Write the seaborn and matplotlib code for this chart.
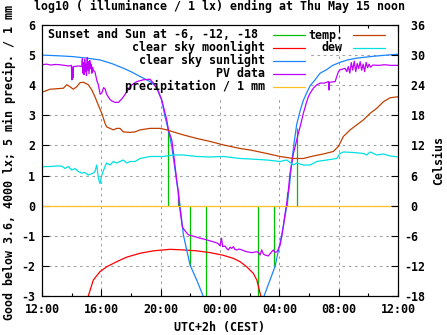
import matplotlib
matplotlib.use("Agg")
import matplotlib.pyplot as plt
import seaborn as sns
from matplotlib.patches import Rectangle
from matplotlib.lines import Line2D

# ---------------- data (hours since 12:00) ----------------
xtick_pos = [0, 4, 8, 12, 16, 20, 24]
xtick_labels = ["12:00", "16:00", "20:00", "00:00", "04:00", "08:00", "12:00"]
xminor_pos = [2, 6, 10, 14, 18, 22]
ytick_vals = [-3, -2, -1, 0, 1, 2, 3, 4, 5, 6]
y2tick_vals = [-18, -12, -6, 0, 6, 12, 18, 24, 30, 36]

# Sunset and sun at -6, -12, -18 (impulses)
green_h = [8.52, 9.15, 10.00, 11.08, 14.59, 15.66, 16.50, 17.22]
green_v = [2.57, 0.47, -2.00, -3.50, -3.50, -2.00, 0.47, 2.57]

# clear sky moonlight
moon_h = [3.0, 3.12, 3.46, 3.91, 4.36, 5.04, 5.71, 6.61, 7.51, 8.63, 9.53,
          10.43, 11.33, 12.23, 12.9, 13.35, 13.80, 14.25, 14.48, 14.65, 14.75, 14.85]
moon_v = [-3.4, -3.0, -2.47, -2.19, -2.03, -1.86, -1.71, -1.58, -1.50, -1.45, -1.47,
          -1.50, -1.56, -1.65, -1.75, -1.86, -2.03, -2.25, -2.47, -2.80, -3.0, -3.4]

# clear sky sunlight (evening and morning branches)
sun_eve_h = [0.0, 1.0, 2.09, 3.0, 3.91, 4.7, 5.46, 6.0, 6.61, 7.28, 7.73, 8.07, 8.29,
             8.52, 8.75, 8.97, 9.31, 9.53, 9.98, 10.43, 10.84, 11.0]
sun_eve_v = [5.00, 4.98, 4.95, 4.90, 4.84, 4.72, 4.57, 4.45, 4.29, 4.12, 3.95, 3.51, 2.96,
             2.51, 1.96, 1.19, 0.0, -0.97, -1.97, -2.47, -2.97, -3.3]
sun_morn_h = [14.7, 14.97, 15.37, 15.71, 16.16, 16.54, 16.70, 16.84, 17.0, 17.17, 17.40,
              17.62, 17.85, 18.07, 18.41, 18.75, 19.2, 19.6, 20.09, 20.6, 21.22, 22.32, 23.2, 24.0]
sun_morn_v = [-3.3, -3.0, -2.47, -2.02, -0.97, 0.09, 0.75, 1.45, 2.1, 2.7, 3.15,
              3.5, 3.75, 3.98, 4.18, 4.4, 4.52, 4.66, 4.76, 4.84, 4.9, 4.96, 5.0, 5.03]

# PV data
pv_h = [0.00, 0.30, 0.60, 0.90, 1.20, 1.50, 1.80, 1.98, 2.02, 2.06,
        2.09, 2.12, 2.30, 2.50, 2.68, 2.72, 2.76, 2.80, 2.84, 2.88,
        2.92, 2.96, 3.00, 3.05, 3.09, 3.13, 3.17, 3.22, 3.27, 3.31,
        3.36, 3.41, 3.46, 3.57, 3.70, 3.80, 3.92, 4.03, 4.15, 4.25,
        4.36, 4.47, 4.60, 4.70, 4.92, 5.15, 5.37, 5.55, 5.71, 5.88,
        6.05, 6.39, 6.83, 7.28, 7.51, 7.84, 8.07, 8.29, 8.41, 8.52,
        8.75, 8.92, 9.08, 9.19, 9.24, 9.37, 9.46, 9.60, 9.87, 10.32,
        10.65, 10.99, 11.55, 11.85, 12.00, 12.10, 12.18, 12.34, 12.45, 12.56,
        12.68, 12.79, 12.90, 13.00, 13.13, 13.30, 13.47, 13.80, 14.14, 14.48,
        14.60, 14.70, 14.81, 14.92, 15.04, 15.26, 15.40, 15.49, 15.60, 15.70,
        15.83, 15.93, 16.05, 16.16, 16.27, 16.39, 16.50, 16.61, 16.72, 16.84,
        16.95, 17.06, 17.17, 17.28, 17.40, 17.51, 17.62, 17.74, 17.85, 17.96,
        18.07, 18.29, 18.52, 18.75, 19.03, 19.31, 19.35, 19.38, 19.76, 19.87,
        19.98, 20.09, 20.43, 20.55, 20.65, 20.75, 20.85, 20.95, 21.05, 21.15,
        21.25, 21.35, 21.45, 21.55, 21.65, 21.75, 21.85, 21.95, 22.05, 22.15,
        22.30, 22.70, 23.10, 23.50, 24.00]
pv_v = [4.68, 4.70, 4.67, 4.69, 4.68, 4.66, 4.64, 4.66, 4.18, 4.60,
        4.25, 4.62, 4.63, 4.64, 4.62, 4.88, 4.40, 4.75, 4.35, 4.86,
        4.45, 4.70, 4.32, 4.92, 4.50, 4.78, 4.38, 4.82, 4.55, 4.70,
        4.40, 4.60, 4.50, 4.44, 4.15, 4.01, 3.70, 3.74, 3.92, 3.88,
        3.70, 3.61, 3.52, 3.48, 3.43, 3.43, 3.54, 3.66, 3.78, 3.92,
        4.01, 4.12, 4.18, 4.20, 4.07, 3.79, 3.51, 3.08, 2.85, 2.51,
        2.18, 1.52, 0.85, 0.47, 0.09, -0.37, -0.70, -0.81, -0.97, -1.03,
        -1.08, -1.12, -1.20, -1.25, -1.33, -1.08, -1.36, -1.34, -1.42, -1.47,
        -1.38, -1.42, -1.36, -1.45, -1.47, -1.44, -1.47, -1.53, -1.56, -1.53,
        -1.56, -1.64, -1.47, -1.60, -1.64, -1.67, -1.58, -1.53, -1.47, -1.55,
        -1.53, -1.45, -1.31, -1.03, -0.70, -0.25, 0.08, 0.52, 1.08, 1.41,
        1.74, 1.95, 2.18, 2.40, 2.62, 2.85, 3.07, 3.27, 3.46, 3.62,
        3.73, 3.90, 4.01, 4.07, 4.07, 4.12, 3.84, 4.10, 4.12, 4.29,
        4.45, 4.51, 4.56, 4.45, 4.62, 4.40, 4.75, 4.50, 4.80, 4.45,
        4.72, 4.55, 4.78, 4.50, 4.70, 4.45, 4.76, 4.58, 4.70, 4.60,
        4.67, 4.66, 4.68, 4.66, 4.66]

# precipitation / 1 mm
prec_h = [0.0, 24.0]
prec_v = [0.0, 0.0]

# temperature and dew point (Celsius, right axis)
temp_h = [0, 0.54, 1.44, 1.67, 1.89, 2.11, 2.34, 2.56, 2.78, 3.12,
          3.35, 3.57, 3.80, 4.03, 4.25, 4.36, 4.59, 4.81, 5.04, 5.26,
          5.48, 5.93, 6.27, 6.61, 7.28, 7.96, 8.41, 8.85, 9.53, 10.43,
          11.33, 12.23, 13.35, 14.03, 15.15, 16.05, 16.95, 17.62, 18.29, 18.97,
          19.64, 19.98, 20.32, 20.77, 21.22, 21.67, 22.12, 22.57, 23.01, 23.47, 24.0]
temp_c = [22.6, 23.2, 23.4, 24.1, 23.7, 23.2, 23.7, 24.5, 24.6, 24.1,
          23.1, 21.7, 20.0, 18.4, 16.4, 15.7, 15.4, 15.1, 15.4, 15.4,
          14.7, 14.6, 14.7, 15.1, 15.4, 15.4, 15.1, 14.7, 14.1, 13.4,
          12.8, 12.1, 11.4, 11.1, 10.4, 9.8, 9.4, 9.4, 9.9, 10.3,
          10.8, 11.8, 13.8, 15.1, 16.1, 17.1, 18.4, 19.4, 20.7, 21.5, 21.7]
dew_h = [0, 0.20, 0.54, 0.99, 1.33, 1.55, 1.77, 2.0, 2.23, 2.45,
         2.68, 2.90, 3.12, 3.46, 3.57, 3.69, 3.80, 3.91, 4.03, 4.25,
         4.36, 4.59, 4.81, 5.04, 5.26, 5.48, 5.71, 5.93, 6.27, 6.61,
         7.28, 8.18, 8.85, 9.53, 10.43, 11.33, 12.23, 13.35, 14.03, 15.15,
         16.05, 16.50, 16.95, 17.17, 17.62, 18.07, 18.52, 19.20, 19.87, 20.09,
         20.32, 20.99, 21.67, 21.89, 22.12, 22.57, 23.01, 23.47, 24.0]
dew_c = [7.7, 7.8, 7.8, 7.9, 7.9, 7.4, 7.8, 7.1, 7.4, 6.8,
         6.5, 6.6, 6.1, 6.5, 6.8, 8.1, 5.5, 4.4, 6.1, 7.8,
         8.5, 8.1, 8.8, 8.5, 8.8, 9.1, 8.5, 8.8, 8.8, 9.4,
         9.8, 9.8, 10.1, 10.1, 9.8, 9.7, 9.8, 9.4, 9.3, 9.1,
         8.8, 9.1, 8.1, 8.5, 8.1, 8.1, 8.8, 9.1, 9.4, 10.4,
         10.7, 10.6, 10.4, 10.1, 10.7, 10.1, 10.3, 9.9, 9.7]

title = "log10 ( illuminance / 1 lx) ending at Thu May 15 noon"
ylabel = "Good below 3.6, 4000 lx; 5 min precip. / 1 mm"
y2label = "Celsius"
xlabel = "UTC+2h (CEST)"
legend1 = ["Sunset and Sun at -6, -12, -18", "clear sky moonlight",
           "clear sky sunlight", "PV data", "precipitation / 1 mm"]
legend2 = ["temp.", "dew"]

# ---------------- style ----------------
C_GREEN, C_RED, C_BLUE, C_PURPLE, C_YELLOW = "#00c000", "#ff0000", "#1a85ff", "#c000ff", "#ffc020"
C_BROWN, C_CYAN = "#c04000", "#00e0e0"

sns.set_style("white")
plt.rcParams.update({
    "font.family": ["DejaVu Sans Mono"],
    "font.weight": "bold",
    "axes.unicode_minus": False,
    "text.color": "black",
    "axes.labelcolor": "black",
    "xtick.color": "black",
    "ytick.color": "black",
    "axes.edgecolor": "black",
})
FS = 8.4
LW = 0.9

W, H = 447, 335
L, R, T, B = 42, 398, 25, 296
fig = plt.figure(figsize=(W / 100, H / 100), dpi=100)
ax = fig.add_axes([L / W, (H - B) / H, (R - L) / W, (B - T) / H])
ax2 = ax.twinx()

kw = dict(estimator=None, sort=False, legend=False, linewidth=LW)

# opaque key area of the first plot (hides grid)
ax.add_patch(Rectangle((0, 3.575), 18.07, 6 - 3.575, facecolor="white",
                       edgecolor="none", zorder=1))

ax.vlines(green_h, 0, green_v, colors=C_GREEN, linewidth=LW, zorder=2)
sns.lineplot(x=moon_h, y=moon_v, ax=ax, color=C_RED, **kw)
sns.lineplot(x=sun_eve_h, y=sun_eve_v, ax=ax, color=C_BLUE, **kw)
sns.lineplot(x=sun_morn_h, y=sun_morn_v, ax=ax, color=C_BLUE, **kw)
sns.lineplot(x=pv_h, y=pv_v, ax=ax, color=C_PURPLE, **kw)
sns.lineplot(x=prec_h, y=prec_v, ax=ax, color=C_YELLOW, **kw)
sns.lineplot(x=temp_h, y=temp_c, ax=ax2, color=C_BROWN, **kw)
sns.lineplot(x=dew_h, y=dew_c, ax=ax2, color=C_CYAN, **kw)

ax.set_xlim(0, 24)
ax.set_ylim(-3, 6)
ax2.set_ylim(-18, 36)
ax.set_xlabel("")
ax.set_ylabel("")
ax2.set_ylabel("")

ax.grid(True, which="major", color="#a0a0a0", linewidth=0.75, linestyle=(0, (2.5, 3.5)))
ax.set_axisbelow(True)

ax.set_xticks(xtick_pos)
ax.set_xticklabels(xtick_labels, fontsize=FS)
ax.set_xticks(xminor_pos, minor=True)
ax.set_yticks(ytick_vals)
ax.set_yticklabels([str(v) for v in ytick_vals], fontsize=FS)
ax2.set_yticks(y2tick_vals)
ax2.set_yticklabels([("% d" % v) for v in y2tick_vals], fontsize=FS)

ax.tick_params(axis="x", which="major", direction="in", length=5, width=0.8,
               bottom=True, top=True, pad=5)
ax.tick_params(axis="x", which="minor", direction="in", length=2.5, width=0.8,
               bottom=True, top=True)
ax.tick_params(axis="y", which="major", direction="in", length=5, width=0.8,
               left=True, right=False, pad=5)
ax2.tick_params(axis="y", which="major", direction="in", length=5, width=0.8,
                left=False, right=True, pad=4.3)
for a in (ax, ax2):
    for s in a.spines.values():
        s.set_linewidth(0.8)
        s.set_color("black")

# texts
fig.text(220 / W, (H - 10) / H, title, ha="center", va="baseline", fontsize=FS)
fig.text(220 / W, (H - 330.5) / H, xlabel, ha="center", va="baseline", fontsize=FS)
fig.text(9 / W, (H - 162) / H, ylabel, rotation=90, ha="center", va="center", fontsize=FS)
fig.text(439 / W, (H - 160) / H, y2label, rotation=90, ha="center", va="center", fontsize=FS)

# key
col1_colors = [C_GREEN, C_RED, C_BLUE, C_PURPLE, C_YELLOW]
col2_colors = [C_BROWN, C_CYAN]
for i, (lab, c) in enumerate(zip(legend1, col1_colors)):
    y = 35 + 12.9 * i
    xr = 258 if i == 0 else 265
    fig.text(xr / W, (H - y) / H, lab, ha="right", va="center", fontsize=FS)
    fig.add_artist(Line2D([273 / W, 305 / W], [(H - y) / H] * 2, color=c, linewidth=LW))
for i, (lab, c) in enumerate(zip(legend2, col2_colors)):
    y = 35 + 12.9 * i
    fig.text(343 / W, (H - y) / H, lab, ha="right", va="center", fontsize=FS)
    fig.add_artist(Line2D([353 / W, 385 / W], [(H - y) / H] * 2, color=c, linewidth=LW))

fig.savefig("out.png", dpi=100)
